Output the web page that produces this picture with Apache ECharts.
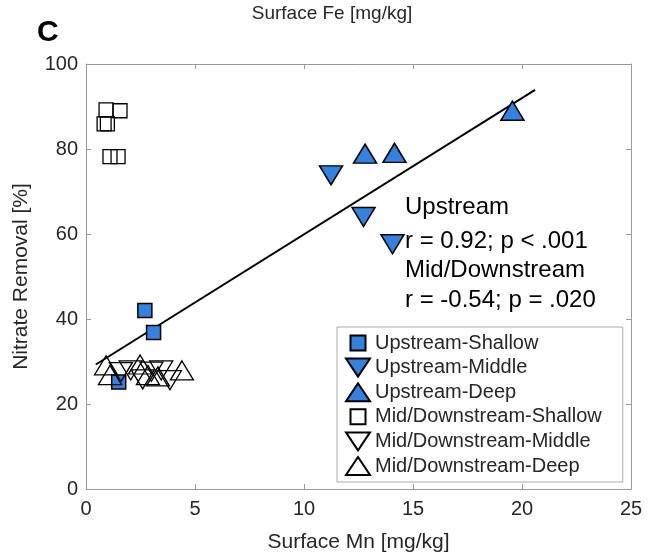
<!DOCTYPE html>
<html>
<head>
<meta charset="utf-8">
<script src="https://cdn.jsdelivr.net/npm/echarts@6/dist/echarts.min.js"></script>
<style>
html,body{margin:0;padding:0;background:#fff;}
#chart{width:650px;height:558px;}
</style>
</head>
<body>
<div id="chart"></div>
<script>
// ---- data ----
var seriesNames = ['Upstream-Shallow','Upstream-Middle','Upstream-Deep','Mid/Downstream-Shallow','Mid/Downstream-Middle','Mid/Downstream-Deep'];
var upShallow = [[2.7,42.0],[3.1,36.8],[1.5,25.2]];
var upMiddle  = [[11.24,73.8],[12.73,64.0],[14.06,57.6]];
var upDeep    = [[12.8,78.9],[14.15,79.1],[19.56,89.0]];
var midShallow = [[0.92,89.2],[1.56,89.0],[0.83,85.9],[0.98,85.9],[1.10,78.2],[1.47,78.2]];
var midMiddle  = [[1.6,27.5],[2.05,27.9],[2.6,25.8],[3.0,27.6],[3.45,27.9],[3.85,25.6]];
var midDeep    = [[0.92,29.1],[1.1,26.8],[2.48,29.3],[2.84,26.8],[3.3,26.5],[4.4,27.9]];
var fitX = [0.45, 20.6];
var fitY = [29.3, 93.9];
var xTicks = [0,5,10,15,20,25];
var yTicks = [0,20,40,60,80,100];
var annotation = ['Upstream','r = 0.92; p < .001','Mid/Downstream','r = -0.54; p = .020'];

var FONT = 'Liberation Sans, Arial, Helvetica, sans-serif';
var BLUE = '#3282E2';
var TXT = '#262626';
var AX = '#9a9a9a';
var downTri = 'path://M0,0L22,0L11,18Z';
var legSquareFilled = 'path://M0,0M4.5,1.5L19.5,1.5L19.5,16.5L4.5,16.5ZM24,18';
var legDown = 'path://M0,0L24,0L12,18Z';
var legUp = 'path://M12,0L24,18L0,18Z';

var fitData = fitX.map(function(x,i){return [x, fitY[i]];});

function axisCommon(showLabel){
  return {
    axisLine:{show:true, onZero:false, lineStyle:{color:AX, width:1}},
    axisTick:{show:true, inside:true, length:5, lineStyle:{color:AX}},
    splitLine:{show:false},
    axisLabel:{show:showLabel, color:TXT, fontSize:20, fontFamily:FONT}
  };
}

var xAxisBottom = Object.assign({type:'value', position:'bottom', min:xTicks[0], max:xTicks[xTicks.length-1], interval:5,
  name:'Surface Mn [mg/kg]', nameLocation:'middle', nameGap:43,
  nameTextStyle:{color:TXT, fontSize:21, fontFamily:FONT}}, axisCommon(true));
xAxisBottom.axisLabel.margin = 10;
var xAxisTop = Object.assign({type:'value', position:'top', min:0, max:25, interval:5}, axisCommon(false));
var yAxisLeft = Object.assign({type:'value', position:'left', min:yTicks[0], max:yTicks[yTicks.length-1], interval:20,
  name:'Nitrate Removal [%]', nameLocation:'middle', nameGap:54,
  nameTextStyle:{color:TXT, fontSize:21, fontFamily:FONT}}, axisCommon(true));
yAxisLeft.axisLabel.margin = 8;
var yAxisRight = Object.assign({type:'value', position:'right', min:0, max:100, interval:20}, axisCommon(false));

var chart = echarts.init(document.getElementById('chart'), null, {renderer:'canvas'});
chart.setOption({
  animation:false,
  backgroundColor:'#fff',
  grid:{left:86, right:19, top:64, bottom:68},
  xAxis:[xAxisBottom, xAxisTop],
  yAxis:[yAxisLeft, yAxisRight],
  legend:{
    orient:'vertical', left:337, top:327,
    backgroundColor:'#fff', borderColor:'#aaaaaa', borderWidth:1, borderRadius:0,
    padding:[6,21,6,8], itemWidth:24, itemHeight:18, itemGap:4.6,
    textStyle:{color:TXT, fontSize:20, fontFamily:FONT, lineHeight:18},
    data:[
      {name:seriesNames[0], icon:legSquareFilled},
      {name:seriesNames[1], icon:legDown},
      {name:seriesNames[2], icon:legUp},
      {name:seriesNames[3], icon:legSquareFilled},
      {name:seriesNames[4], icon:legDown},
      {name:seriesNames[5], icon:legUp}
    ]
  },
  graphic:[
    {type:'text', left:37, top:18, style:{text:'C', fontSize:30, fontWeight:'bold', fill:'#000', fontFamily:FONT}},
    {type:'text', x:332, y:14, style:{text:'Surface Fe [mg/kg]', fontSize:19, fill:TXT, fontFamily:FONT, textAlign:'center', textVerticalAlign:'middle'}},
    {type:'text', x:405, y:207, style:{text:annotation[0], fontSize:24, fill:'#000', fontFamily:FONT, textVerticalAlign:'middle'}},
    {type:'text', x:405, y:241, style:{text:annotation[1], fontSize:24, fill:'#000', fontFamily:FONT, textVerticalAlign:'middle'}},
    {type:'text', x:405, y:270, style:{text:annotation[2], fontSize:24, fill:'#000', fontFamily:FONT, textVerticalAlign:'middle'}},
    {type:'text', x:405, y:300, style:{text:annotation[3], fontSize:24, fill:'#000', fontFamily:FONT, textVerticalAlign:'middle'}}
  ],
  series:[
    {name:'fit', type:'line', data:fitData, showSymbol:false, symbol:'none', lineStyle:{color:'#000', width:2}, z:3, silent:true},
    {name:seriesNames[0], type:'scatter', data:upShallow, symbol:'rect', symbolSize:14,
      itemStyle:{color:BLUE, borderColor:'#000', borderWidth:1.5, opacity:1}, z:4},
    {name:seriesNames[1], type:'scatter', data:upMiddle, symbol:downTri, symbolSize:[23,19], symbolKeepAspect:false,
      itemStyle:{color:BLUE, borderColor:'#000', borderWidth:1.5, opacity:1}, z:4},
    {name:seriesNames[2], type:'scatter', data:upDeep, symbol:'triangle', symbolSize:[23,19],
      itemStyle:{color:BLUE, borderColor:'#000', borderWidth:1.5, opacity:1}, z:4},
    {name:seriesNames[3], type:'scatter', data:midShallow, symbol:'rect', symbolSize:14,
      itemStyle:{color:'rgba(255,255,255,0)', borderColor:'#000', borderWidth:1.3, opacity:1}, z:5},
    {name:seriesNames[4], type:'scatter', data:midMiddle, symbol:downTri, symbolSize:[23,19], symbolKeepAspect:false,
      itemStyle:{color:'rgba(255,255,255,0)', borderColor:'#000', borderWidth:1.3, opacity:1}, z:5},
    {name:seriesNames[5], type:'scatter', data:midDeep, symbol:'triangle', symbolSize:[23,19],
      itemStyle:{color:'rgba(255,255,255,0)', borderColor:'#000', borderWidth:1.3, opacity:1}, z:5}
  ]
});
</script>
</body>
</html>
